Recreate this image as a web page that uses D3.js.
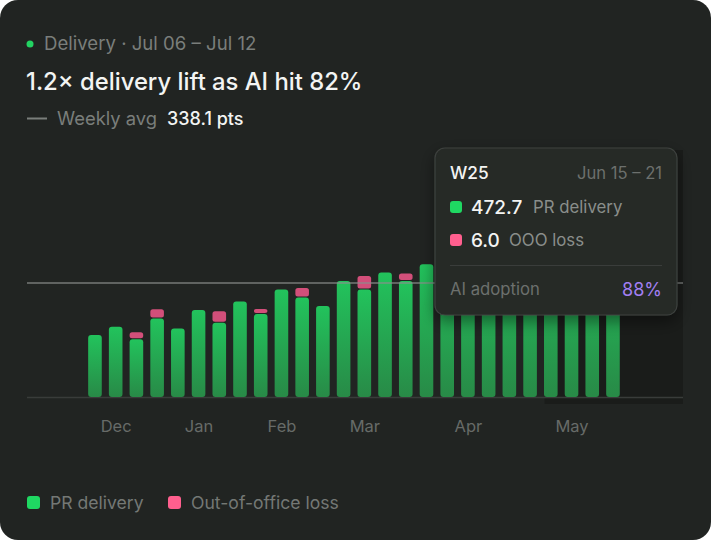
<!DOCTYPE html>
<html>
<head>
<meta charset="utf-8">
<script src="https://cdn.jsdelivr.net/npm/d3@7"></script>
<style>
  html, body { margin: 0; padding: 0; background: #ffffff; }
  svg { display: block; font-family: Inter, "Noto Sans", sans-serif; }
</style>
</head>
<body>
<svg id="chart" width="711" height="540"></svg>
<script>
// weekly values
var weeks = ["W47","W48","W49","W50","W51","W52","W01","W02","W03","W04","W05","W06","W07",
             "W08","W09","W10","W11","W12","W13","W14","W15","W16","W25","W18","W19","W20"];
var prDelivery = [184, 208, 171, 233, 203, 258, 220, 283, 246, 319, 295, 270, 344,
                  319, 369, 344, 394, 405, 418, 412, 436, 428, 472.7, 448, 458, 452];
var oooLoss = [0, 0, 18, 24, 0, 0, 31, 0, 12, 0, 25, 0, 0,
               37, 0, 19, 0, 0, 0, 0, 0, 0, 6.0, 0, 0, 0];
var monthLabels = ["Dec", "Jan", "Feb", "Mar", "Apr", "May"];
var monthAt = [1, 5, 9, 13, 18, 23];
var weeklyAvg = 338.1;

var W = 711, H = 540;
var svg = d3.select("#chart");

// card
svg.append("rect").attr("width", W).attr("height", H).attr("rx", 18).attr("fill", "#212422");

var defs = svg.append("defs");
var g1 = defs.append("linearGradient").attr("id", "barGreen").attr("x1", 0).attr("x2", 0).attr("y1", 0).attr("y2", 1);
g1.append("stop").attr("offset", "0%").attr("stop-color", "#22c35c");
g1.append("stop").attr("offset", "100%").attr("stop-color", "#288a47");
var sh = defs.append("filter").attr("id", "shadow").attr("x", "-20%").attr("y", "-20%").attr("width", "140%").attr("height", "150%");
sh.append("feDropShadow").attr("dx", 0).attr("dy", 6).attr("stdDeviation", 8).attr("flood-color", "#000").attr("flood-opacity", 0.45);

// header
svg.append("circle").attr("cx", 30).attr("cy", 44).attr("r", 3.5).attr("fill", "#22d362");
svg.append("text").attr("x", 44).attr("y", 50).attr("font-size", 18.6).attr("fill", "#7a7e7b")
  .text("Delivery · Jul 06 – Jul 12");
svg.append("text").attr("x", 26).attr("y", 90).attr("font-size", 23.8).attr("font-weight", 500).attr("fill", "#f3f4f3")
  .text("1.2× delivery lift as AI hit 82%");
svg.append("line").attr("x1", 27).attr("x2", 47).attr("y1", 118.5).attr("y2", 118.5)
  .attr("stroke", "#7a7e7b").attr("stroke-width", 2);
svg.append("text").attr("x", 57).attr("y", 125).attr("font-size", 18.4).attr("fill", "#7a7e7b").text("Weekly avg");
svg.append("text").attr("x", 167).attr("y", 125).attr("font-size", 18).attr("font-weight", 500).attr("fill", "#f3f4f3")
  .text(d3.format(".1f")(weeklyAvg) + " pts");

// scales
var x = d3.scaleLinear().domain([-3.28, 28.38]).range([27, 683]);
var y = d3.scaleLinear().domain([0, weeklyAvg]).range([397, 283]);
var bw = 13.6;

// dim zone on the right
svg.append("rect").attr("x", x(21.7)).attr("y", 150).attr("width", 683 - x(21.7)).attr("height", 254)
  .attr("fill", "#1a1c1a");

// baseline and avg line
svg.append("line").attr("x1", 27).attr("x2", 683).attr("y1", y(0) + 0.5).attr("y2", y(0) + 0.5)
  .attr("stroke", "#393c3a").attr("stroke-width", 1.5);

var bars = svg.append("g");
bars.selectAll("rect.pr").data(prDelivery).enter().append("rect").attr("class", "pr")
  .attr("x", function(d, i) { return x(i) - bw / 2; })
  .attr("y", function(d) { return y(d); })
  .attr("width", bw)
  .attr("height", function(d) { return y(0) - y(d); })
  .attr("rx", 3)
  .attr("fill", "url(#barGreen)");
bars.selectAll("rect.ooo").data(oooLoss).enter().append("rect").attr("class", "ooo")
  .filter(function(d) { return d > 0; })
  .attr("x", function(d) { var i = oooLoss.indexOf(d); return x(i) - bw / 2; })
  .attr("y", function(d) { var i = oooLoss.indexOf(d); return y(prDelivery[i] + d) - 1; })
  .attr("width", bw)
  .attr("height", function(d) { return y(0) - y(d); })
  .attr("rx", 2.5)
  .attr("fill", "#d24f7a");

svg.append("line").attr("x1", 27).attr("x2", 683).attr("y1", y(weeklyAvg)).attr("y2", y(weeklyAvg))
  .attr("stroke", "#8b8e8c").attr("stroke-opacity", 0.8).attr("stroke-width", 1.5);

// month axis
var axis = d3.axisBottom(x).tickValues(monthAt).tickSize(0)
  .tickFormat(function(d, i) { return monthLabels[i]; });
var ax = svg.append("g").attr("transform", "translate(0,417)").call(axis);
ax.select(".domain").remove();
ax.selectAll("text").attr("font-size", 16.5).attr("fill", "#676b68").attr("font-family", "Inter, sans-serif");

// tooltip
var hi = weeks.indexOf("W25");
var tip = svg.append("g").attr("transform", "translate(435,148)");
tip.append("rect").attr("width", 242).attr("height", 167).attr("rx", 10)
  .attr("fill", "#262927").attr("stroke", "#3d413e").attr("stroke-width", 1.2).attr("filter", "url(#shadow)");
tip.append("text").attr("x", 15).attr("y", 31).attr("font-size", 17.3).attr("font-weight", 500).attr("fill", "#f3f4f3").text(weeks[hi]);
tip.append("text").attr("x", 227).attr("y", 31).attr("text-anchor", "end").attr("font-size", 16.6).attr("fill", "#6c706d").text("Jun 15 – 21");
tip.append("rect").attr("x", 15).attr("y", 53).attr("width", 12).attr("height", 12).attr("rx", 3).attr("fill", "#1fd862");
tip.append("text").attr("x", 36).attr("y", 66).attr("font-size", 19).attr("font-weight", 500).attr("fill", "#f3f4f3").text(d3.format(".1f")(prDelivery[hi]));
tip.append("text").attr("x", 98).attr("y", 65).attr("font-size", 16.8).attr("fill", "#8a8e8b").text("PR delivery");
tip.append("rect").attr("x", 15).attr("y", 86).attr("width", 12).attr("height", 12).attr("rx", 3).attr("fill", "#ff5f8e");
tip.append("text").attr("x", 36).attr("y", 99).attr("font-size", 19).attr("font-weight", 500).attr("fill", "#f3f4f3").text(d3.format(".1f")(oooLoss[hi]));
tip.append("text").attr("x", 74).attr("y", 98).attr("font-size", 16.8).attr("fill", "#8a8e8b").text("OOO loss");
tip.append("line").attr("x1", 15).attr("x2", 227).attr("y1", 117.5).attr("y2", 117.5).attr("stroke", "#3a3d3b");
tip.append("text").attr("x", 15).attr("y", 147).attr("font-size", 16.7).attr("fill", "#6c706d").text("AI adoption");
tip.append("text").attr("x", 227).attr("y", 148).attr("text-anchor", "end").attr("font-size", 18).attr("fill", "#a27ff2").text("88%");

// legend
var legend = [["PR delivery", "#1fd862"], ["Out-of-office loss", "#ff5f8e"]];
var lx = [27, 168];
legend.forEach(function(l, i) {
  svg.append("rect").attr("x", lx[i]).attr("y", 496).attr("width", 13).attr("height", 13).attr("rx", 3).attr("fill", l[1]);
  svg.append("text").attr("x", lx[i] + 23).attr("y", 509).attr("font-size", 17.6).attr("fill", "#747875").text(l[0]);
});
</script>
</body>
</html>
